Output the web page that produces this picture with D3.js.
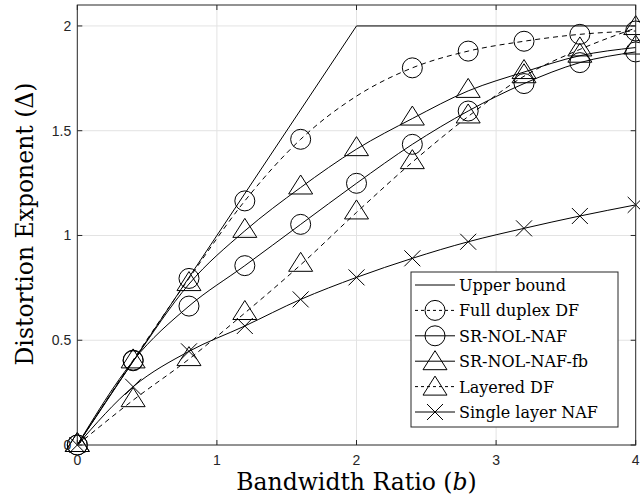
<!DOCTYPE html>
<html>
<head>
<meta charset="utf-8">
<script src="https://cdn.jsdelivr.net/npm/d3@7"></script>
<style>
  body { margin: 0; background: #fff; }
  svg { display: block; }
</style>
</head>
<body>
<svg id="chart" width="640" height="499"></svg>
<script>
// data
var bw = [0, 0.4, 0.8, 1.2, 1.6, 2.0, 2.4, 2.8, 3.2, 3.6, 4.0];
var upperB = [0, 2, 4];
var upperV = [0, 2, 2];
var fullDuplexDF = [0, 0.405, 0.795, 1.165, 1.459, 1.665, 1.80, 1.88, 1.927, 1.96, 1.976];
var fullDuplexNoMark = [5];      // no marker drawn at b = 2
var srNolNaf = [0, 0.402, 0.663, 0.856, 1.053, 1.249, 1.435, 1.594, 1.725, 1.825, 1.876];
var srNolNafFb = [0, 0.399, 0.768, 1.022, 1.229, 1.412, 1.558, 1.69, 1.78, 1.858, 1.897];
var layeredDF = [0, 0.214, 0.41, 0.63, 0.86, 1.11, 1.35, 1.568, 1.76, 1.888, 1.99];
var singleLayerNaf = [0, 0.278, 0.447, 0.568, 0.695, 0.80, 0.891, 0.97, 1.034, 1.093, 1.146];

var xTicks = [0, 1, 2, 3, 4];
var yTicks = [0, 0.5, 1, 1.5, 2];
var legendNames = ['Upper bound', 'Full duplex DF', 'SR-NOL-NAF', 'SR-NOL-NAF-fb', 'Layered DF', 'Single layer NAF'];

var svg = d3.select('#chart');
var axisCol = '#262626';
var plotL = 77.3, plotR = 635.7, plotT = 5, plotB = 445;

var x = d3.scaleLinear().domain([0, 4]).range([plotL, plotR]);
var y = d3.scaleLinear().domain([0, 2.1]).range([plotB, plotT]);

// grid
var gGrid = svg.append('g').attr('stroke', '#e3e3e3').attr('stroke-width', 1);
xTicks.slice(1, -1).forEach(function(t) {
    gGrid.append('line').attr('x1', x(t)).attr('x2', x(t)).attr('y1', plotT).attr('y2', plotB);
});
yTicks.slice(1).forEach(function(t) {
    gGrid.append('line').attr('x1', plotL).attr('x2', plotR).attr('y1', y(t)).attr('y2', y(t));
});

// series
var series = [
    {v: srNolNafFb, dash: null, mark: 'tri', skip: []},
    {v: srNolNaf, dash: null, mark: 'circ', skip: []},
    {v: fullDuplexDF, dash: '5,4', mark: 'circ', skip: fullDuplexNoMark},
    {v: layeredDF, dash: '5,4', mark: 'tri', skip: []},
    {v: singleLayerNaf, dash: null, mark: 'cross', skip: []}
];

var line = d3.line()
    .x(function(d) { return x(d[0]); })
    .y(function(d) { return y(d[1]); })
    .curve(d3.curveMonotoneX);

var gLines = svg.append('g').attr('fill', 'none').attr('stroke', '#000').attr('stroke-width', 1);

gLines.append('path')
    .attr('d', d3.line().x(function(d, i) { return x(upperB[i]); }).y(function(d) { return y(d); })(upperV));

function drawMarker(g, kind, cx, cy) {
    if (kind === 'circ') {
        g.append('circle').attr('cx', cx).attr('cy', cy).attr('r', 10);
    } else if (kind === 'tri') {
        g.append('path').attr('d', 'M' + cx + ',' + (cy - 12.5) + 'L' + (cx + 12) + ',' + (cy + 6.5) +
            'L' + (cx - 12) + ',' + (cy + 6.5) + 'Z');
    } else {
        var s = 8;
        g.append('path').attr('d', 'M' + (cx - s) + ',' + (cy - s) + 'L' + (cx + s) + ',' + (cy + s) +
            'M' + (cx - s) + ',' + (cy + s) + 'L' + (cx + s) + ',' + (cy - s));
    }
}

series.forEach(function(s) {
    var pts = bw.map(function(b, i) { return [b, s.v[i]]; });
    gLines.append('path').attr('d', line(pts)).attr('stroke-dasharray', s.dash);
    var gm = gLines.append('g');
    pts.forEach(function(p, i) {
        if (s.skip.indexOf(i) >= 0) return;
        drawMarker(gm, s.mark, x(p[0]), y(p[1]));
    });
});

// box + ticks
var gAx = svg.append('g').attr('stroke', axisCol).attr('stroke-width', 1).attr('fill', 'none');
gAx.append('rect').attr('x', plotL).attr('y', plotT).attr('width', plotR - plotL).attr('height', plotB - plotT);
xTicks.forEach(function(t) {
    gAx.append('line').attr('x1', x(t)).attr('x2', x(t)).attr('y1', plotB).attr('y2', plotB - 5);
    gAx.append('line').attr('x1', x(t)).attr('x2', x(t)).attr('y1', plotT).attr('y2', plotT + 5);
});
yTicks.forEach(function(t) {
    gAx.append('line').attr('x1', plotL).attr('x2', plotL + 5).attr('y1', y(t)).attr('y2', y(t));
    gAx.append('line').attr('x1', plotR).attr('x2', plotR - 5).attr('y1', y(t)).attr('y2', y(t));
});

var gTxt = svg.append('g').attr('font-family', 'Liberation Sans, Arial, sans-serif').attr('font-size', 14).attr('fill', axisCol);
xTicks.forEach(function(t) {
    gTxt.append('text').attr('x', x(t)).attr('y', plotB + 20).attr('text-anchor', 'middle').text(t);
});
yTicks.forEach(function(t) {
    gTxt.append('text').attr('x', plotL - 6).attr('y', y(t) + 5).attr('text-anchor', 'end').text(t);
});

// axis labels
var serif = 'DejaVu Serif, serif';
var xl = svg.append('text').attr('x', (plotL + plotR) / 2).attr('y', 490).attr('text-anchor', 'middle')
    .attr('font-family', serif).attr('font-size', 23.5).attr('fill', '#000');
xl.append('tspan').text('Bandwidth Ratio (');
xl.append('tspan').attr('font-style', 'italic').text('b');
xl.append('tspan').text(')');

svg.append('text').attr('transform', 'translate(33,224) rotate(-90)').attr('text-anchor', 'middle')
    .attr('font-family', serif).attr('font-size', 23.5).attr('fill', '#000')
    .text('Distortion Exponent (\u0394)');

// legend
var lg = svg.append('g');
lg.append('rect').attr('x', 411).attr('y', 272).attr('width', 207).attr('height', 155)
    .attr('fill', '#fff').attr('stroke', axisCol);
var legStyle = [
    {dash: null, mark: null},
    {dash: '3,3', mark: 'circ'},
    {dash: null, mark: 'circ'},
    {dash: null, mark: 'tri'},
    {dash: '3,3', mark: 'tri'},
    {dash: null, mark: 'cross'}
];
legendNames.forEach(function(name, i) {
    var cy = 285 + i * 25.4;
    var g = lg.append('g').attr('fill', 'none').attr('stroke', '#000');
    g.append('line').attr('x1', 415).attr('x2', 455).attr('y1', cy).attr('y2', cy).attr('stroke-dasharray', legStyle[i].dash);
    if (legStyle[i].mark) drawMarker(g, legStyle[i].mark, 435, legStyle[i].mark === 'tri' ? cy + 2 : cy);
    lg.append('text').attr('x', 459).attr('y', cy + 6).attr('font-family', serif).attr('font-size', 16)
        .attr('fill', '#000').text(name);
});
</script>
</body>
</html>
